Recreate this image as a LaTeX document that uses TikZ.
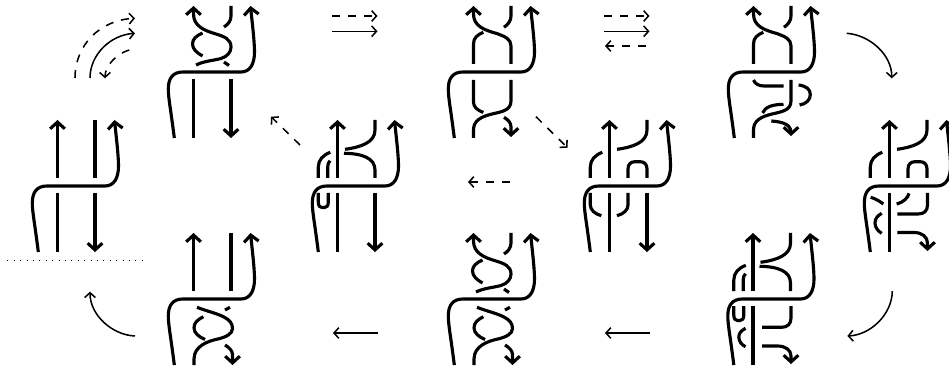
\documentclass[tikz,border=0pt]{standalone}
\usetikzlibrary{arrows.meta}
\tikzset{
  st/.style={line width=2.35pt,line cap=butt},
  sta/.style={st,-{Straight Barb[length=5pt,width=11pt]}},
  conn/.style={line width=1.15pt,-{Straight Barb[length=3.6pt,width=8pt]}},
  dconn/.style={conn,dash pattern=on 6pt off 6pt}
}
\newcommand{\TLong}{\draw[sta] (38.3,252) .. controls (35,225) and (32.3,212) .. (32.3,203) .. controls (32.3,192) and (37,186) .. (47,186) -- (105,186) .. controls (114,186) and (118.5,178) .. (118.5,166) .. controls (118.5,155) and (116,135) .. (114.5,120);}
\newcommand{\TopPlain}{\draw[sta] (57.5,178) -- (57.5,120); \draw[st] (95,120) -- (95,178);}
\newcommand{\TopBraid}{%
  \draw[sta] (60,179) .. controls (68,175) and (78,174.5) .. (85,172.5) .. controls (91.5,170.5) and (95,166) .. (95,161) .. controls (95,153) and (88,150.5) .. (80,148) .. controls (68,144.5) and (57.5,140) .. (57.5,128) -- (57.5,120);
  \draw[st] (95,120) -- (95,130) .. controls (95,135) and (92,138.5) .. (88,141);
  \draw[st] (66.5,147) .. controls (60,150) and (56.5,153) .. (56.5,158) .. controls (56.5,163) and (61,167) .. (66.5,170);
  \draw[st] (88,176) -- (93,179.5);}
\newcommand{\TopX}{%
  \draw[sta] (95,178) -- (95,160) .. controls (95,153) and (89,150.5) .. (80.7,147.5) .. controls (68,144) and (57.5,140) .. (57.5,128) -- (57.5,120);
  \draw[st] (95,120) -- (95,130) .. controls (95,135) and (92,138.5) .. (88,141.3);
  \draw[st] (67.3,146.3) .. controls (61,149) and (57.5,152) .. (57.5,158) -- (57.5,178);}
\newcommand{\TopK}{%
  \draw[sta] (57.5,178) -- (57.5,120);
  \draw[st] (95,120) -- (95,130) .. controls (95,142) and (82,147) .. (65,149.3);
  \draw[st] (50.3,152.3) .. controls (43,155) and (38.3,160) .. (38.3,167) -- (38.3,178);
  \draw[st] (76,178) -- (76,169) .. controls (76,164) and (79,161.7) .. (83,161.7) -- (88,161.7) .. controls (92,161.7) and (95,164) .. (95,169) -- (95,178);}
\newcommand{\TopI}{%
  \draw[sta] (57.5,178) -- (57.5,120);
  \draw[st] (95,120) -- (95,130) .. controls (95,142) and (82,147) .. (65,149.3);
  \draw[st] (64,153.3) .. controls (82,153.5) and (95,158) .. (95,170) -- (95,178);
  \draw[st] (50.3,152.3) .. controls (43,155) and (38.3,160) .. (38.3,167) -- (38.3,178);
  \draw[st] (50,160.7) .. controls (48.5,162.5) and (47.7,164) .. (47.7,167) -- (47.7,178);}
\newcommand{\BotPlain}{\draw[st] (57.5,193) -- (57.5,252); \draw[sta] (95,193) -- (95,252);}
\newcommand{\BotU}{\draw[st] (38.3,193) -- (38.3,202) .. controls (38.3,206) and (40,207.5) .. (42,207.5) -- (44.5,207.5) .. controls (46.5,207.5) and (48.3,206) .. (48.3,202) -- (48.3,193);}
\newcommand{\BotBraid}{%
  \draw[st] (61,194.3) .. controls (70,198) and (80,200) .. (88,204) .. controls (94,207) and (96.5,211) .. (96.5,215.5) .. controls (96.5,221) and (90,224) .. (82,226) .. controls (72,228) and (58,233) .. (58,246) -- (58,252);
  \draw[st] (89,197) -- (94,194.3);
  \draw[st] (67.3,203.7) .. controls (61,207) and (58,210) .. (58,215) .. controls (58,220) and (63,224) .. (69,226.5);
  \draw[sta] (89,232) .. controls (94,235) and (96.5,238) .. (96.5,242) -- (96.5,252);}
\newcommand{\BotC}{%
  \draw[st] (57.5,194) -- (57.5,216) .. controls (57.5,221) and (61,224) .. (67.3,226.5);
  \draw[st] (95,194) -- (95,215) .. controls (95,225) and (84,226) .. (76,228) .. controls (66,230.5) and (57.5,234) .. (57.5,244) -- (57.5,252);
  \draw[sta] (88,231.3) .. controls (92.5,234) and (95,237) .. (95,241) -- (95,251);}
\newcommand{\BotD}{%
  \draw[st] (57.5,194) .. controls (59,198) and (63,200) .. (68,200) -- (87.5,200);
  \draw[st] (95,194) -- (95,215) .. controls (95,225) and (84,226) .. (76,228) .. controls (66,230.5) and (57.5,234) .. (57.5,244) -- (57.5,252);
  \draw[st] (102.6,199) .. controls (110,200) and (114.3,203) .. (114.3,208.5) .. controls (114.3,214) and (110,218) .. (103.6,219);
  \draw[st] (87.5,218.3) .. controls (76,218.5) and (69,221) .. (66.6,227);
  \draw[sta] (75.3,235) .. controls (80,235.5) and (95,236) .. (95,250);}
\newcommand{\BotJ}{%
  \draw[st] (57.5,193) -- (57.5,252); \draw[sta] (95,193) -- (95,252);
  \draw[st] (38.3,193) -- (38.3,205) .. controls (38.3,210) and (43,214) .. (49.3,215.7);
  \draw[st] (76,193) -- (76,205) .. controls (76,210) and (71.5,214) .. (65,215.7);}
\newcommand{\BotK}{%
  \draw[st] (57.5,193) -- (57.5,252);
  \draw[st] (38.7,197.3) .. controls (43,198.5) and (47.5,201) .. (51.3,204);
  \draw[st] (77,193.3) .. controls (76,198) and (71,202.5) .. (64.7,204);
  \draw[st] (49.7,213.3) .. controls (45,216) and (43,219) .. (43,223) .. controls (43,227) and (45.5,231) .. (49.7,233.3);
  \draw[st] (95.5,193) -- (95.5,205) .. controls (95.5,211) and (92,214) .. (86,214) -- (65.3,214);
  \draw[sta] (65.3,232.5) -- (82,232.5) .. controls (90,232.5) and (95.5,237) .. (95.5,243) -- (95.5,251);}
\newcommand{\BotH}{%
  \draw[st] (57.5,193) -- (57.5,252);
  \BotU
  \draw[st] (50,215.3) .. controls (46,217.5) and (43.3,220) .. (43.3,224) .. controls (43.3,228) and (46,232) .. (50,233.7);
  \draw[st] (95.5,193) -- (95.5,205) .. controls (95.5,211) and (92,214.3) .. (86,214.3) -- (66.7,214.3);
  \draw[sta] (66.7,233) -- (82,233) .. controls (90,233) and (95.5,237) .. (95.5,243) -- (95.5,251);}
\newcommand{\Tang}[3]{\begin{scope}[shift={(#1,#2)}]\TLong #3\end{scope}}
\begin{document}
\begin{tikzpicture}[x=0.75pt,y=-0.75pt]
\useasboundingbox (0,0) rectangle (949,370);
\clip (0,0) rectangle (949,370);
\Tang{0}{0}{\TopPlain\BotPlain}
\Tang{136}{-114}{\TopBraid\BotPlain}
\Tang{416}{-114}{\TopX\BotC}
\Tang{696}{-114}{\TopX\BotD}
\Tang{280}{0}{\TopI\BotPlain\BotU}
\Tang{552}{0}{\TopK\BotJ}
\Tang{832}{0}{\TopK\BotK}
\Tang{136}{113}{\TopPlain\BotBraid}
\Tang{416}{113}{\TopBraid\BotBraid}
\Tang{695.5}{113}{\TopI\BotH}
% end points of the connectors
\coordinate (o1) at (75,78);   \coordinate (o2) at (135,18.3);
\coordinate (s1) at (90,78);   \coordinate (s2) at (135,33.3);
\coordinate (i1) at (129.3,50);\coordinate (i2) at (105,78.3);
\coordinate (c1) at (332,16);  \coordinate (c2) at (377.5,16);
\coordinate (c3) at (332,31.3);\coordinate (c4) at (377.5,31.3);
\coordinate (d1) at (604,16);  \coordinate (d2) at (649.5,16);
\coordinate (d3) at (604,31.3);\coordinate (d4) at (649.5,31.3);
\coordinate (d5) at (646,46);  \coordinate (d6) at (605,46);
\coordinate (e1) at (846.7,33.3); \coordinate (e2) at (891.7,78.3);
\coordinate (f1) at (300,145); \coordinate (f2) at (271,116.7);
\coordinate (g1) at (536,116.7); \coordinate (g2) at (567.5,147.7);
\coordinate (h1) at (510,182); \coordinate (h2) at (468,182);
\coordinate (k1) at (378,333); \coordinate (k2) at (333,333);
\coordinate (l1) at (650,333); \coordinate (l2) at (605,333);
\coordinate (m1) at (892.3,291); \coordinate (m2) at (847.3,336);
\coordinate (n1) at (135,336); \coordinate (n2) at (90,291.7);
\coordinate (p1) at (7.3,260); \coordinate (p2) at (142,260);
\draw[dconn] (o1) .. controls (75,45) and (100,20) .. (o2);
\draw[conn] (s1) .. controls (90,55) and (110,35) .. (s2);
\draw[dconn] (i1) .. controls (118,53) and (105,65) .. (i2);
\draw[dconn] (c1) -- (c2);
\draw[conn] (c3) -- (c4);
\draw[dconn] (d1) -- (d2);
\draw[conn] (d3) -- (d4);
\draw[dconn] (d5) -- (d6);
\draw[conn] (e1) .. controls (870,35) and (892,55) .. (e2);
\draw[dconn] (f1) -- (f2);
\draw[dconn] (g1) -- (g2);
\draw[dconn] (h1) -- (h2);
\draw[conn] (k1) -- (k2);
\draw[conn] (l1) -- (l2);
\draw[conn] (m1) .. controls (892,315) and (870,335) .. (m2);
\draw[conn] (n1) .. controls (112,335) and (90,315) .. (n2);
\draw[line width=0.6pt,dash pattern=on 0.6pt off 4.2pt] (p1) -- (p2);
\end{tikzpicture}
\end{document}
